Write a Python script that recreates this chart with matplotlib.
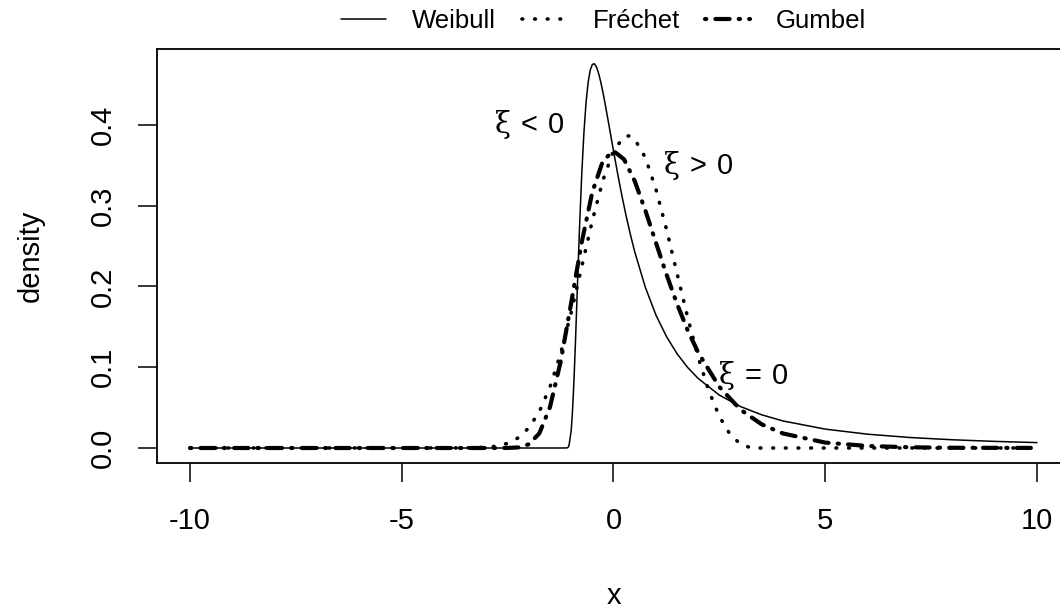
import matplotlib
matplotlib.use("Agg")
import matplotlib.pyplot as plt

plt.rcParams['font.family'] = ['Liberation Sans', 'DejaVu Sans']
plt.rcParams['mathtext.fontset'] = 'custom'
plt.rcParams['mathtext.rm'] = 'Liberation Sans'
plt.rcParams['mathtext.it'] = 'DejaVu Serif'

# ---- data ----
weibull_x = [-10.0, -1.25, -1.1, -1.075, -1.05, -1.0, -0.975, -0.95, -0.925, -0.9, -0.875,
             -0.85, -0.8, -0.75, -0.7, -0.65, -0.6, -0.55, -0.5, -0.45, -0.4, -0.35, -0.3,
             -0.25, -0.2, -0.1, 0.0, 0.1, 0.2, 0.3, 0.4, 0.5, 0.75, 1.0, 1.25, 1.5, 1.75,
             2.0, 2.5, 3.0, 3.5, 4.0, 5.0, 6.0, 7.0, 8.0, 9.0, 10.0]
weibull_y = [0.0, 0.0, 0.0001, 0.0007, 0.0032, 0.0211, 0.0396, 0.0646, 0.0948, 0.129, 0.1661,
             0.2037, 0.276, 0.339, 0.3893, 0.4268, 0.4524, 0.4678, 0.475, 0.4758, 0.4716,
             0.4636, 0.453, 0.4406, 0.4269, 0.3976, 0.3679, 0.3391, 0.312, 0.287, 0.2641,
             0.2432, 0.1993, 0.1649, 0.1381, 0.1168, 0.0998, 0.0861, 0.0655, 0.0513, 0.0411,
             0.0335, 0.0234, 0.0171, 0.013, 0.0102, 0.0082, 0.0067]

frechet_x = [-10.0, -3.5, -3.0, -2.75, -2.5, -2.25, -2.0, -1.75, -1.5, -1.25, -1.0, -0.75,
             -0.5, -0.25, 0.0, 0.25, 0.375, 0.5, 0.75, 1.0, 1.25, 1.5, 1.75, 2.0, 2.25,
             2.5, 2.75, 3.0, 3.25, 3.33, 10.0]
frechet_y = [0.0, 0.0001, 0.0009, 0.0024, 0.0058, 0.0126, 0.0249, 0.0452, 0.0755, 0.1167,
             0.1676, 0.2246, 0.2816, 0.3316, 0.3679, 0.3856, 0.3866, 0.3825, 0.3598, 0.3208,
             0.2711, 0.2163, 0.162, 0.1124, 0.0709, 0.039, 0.0171, 0.0047, 0.0002, 0.0, 0.0]

gumbel_x = [-10.0, -3.0, -2.5, -2.25, -2.0, -1.75, -1.5, -1.25, -1.0, -0.75, -0.5, -0.25,
            0.0, 0.25, 0.5, 0.75, 1.0, 1.25, 1.5, 1.75, 2.0, 2.5, 3.0, 3.5, 4.0, 5.0, 6.0,
            7.0, 8.0, 10.0]
gumbel_y = [0.0, 0.0, 0.0001, 0.0007, 0.0046, 0.0182, 0.0507, 0.1065, 0.1794, 0.2549, 0.317,
            0.3556, 0.3679, 0.3574, 0.3307, 0.2945, 0.2546, 0.2151, 0.1785, 0.146, 0.1182,
            0.0756, 0.0474, 0.0293, 0.018, 0.0067, 0.0025, 0.0009, 0.0003, 0.0001]

legend_labels = ["Weibull", "Fréchet", "Gumbel"]
x_ticks = [-10, -5, 0, 5, 10]
y_ticks = [0.0, 0.1, 0.2, 0.3, 0.4]
annotations = [(-2.0, 0.40, r"$\xi\,<\,0$"), (2.0, 0.35, r"$\xi\,>\,0$"),
               (3.3, 0.09, r"$\xi\,=\,0$")]

# ---- figure ----
W, H = 1060, 611
FS = 21
fig = plt.figure(figsize=(W / 100, H / 100), dpi=100)
ax = fig.add_axes([157 / W, 1 - 462.7 / H, 913 / W, (462.7 - 49) / H])
ax.set_xlim(-10.78, 10.78)
ax.set_ylim(-0.0182, 0.4941)

sty_w = dict(color='black', lw=1.1, solid_capstyle='round')
sty_f = dict(color='black', lw=2.6, linestyle=(0, (0.2, 3.3)), dash_capstyle='round')
sty_g = dict(color='black', lw=3.0, linestyle=(0, (0.3, 2.2, 3.4, 2.2)), dash_capstyle='round')

l1, = ax.plot(weibull_x, weibull_y, **sty_w)
l2, = ax.plot(frechet_x, frechet_y, **sty_f)
l3, = ax.plot(gumbel_x, gumbel_y, **sty_g)

for xx, yy, s in annotations:
    ax.text(xx, yy, s, fontsize=FS, ha='center', va='center')

for sp in ax.spines.values():
    sp.set_linewidth(1.3)

ax.set_xticks(x_ticks)
ax.set_xticklabels([f"{t:d}" for t in x_ticks])
ax.set_yticks(y_ticks)
ax.set_yticklabels([f"{t:.1f}" for t in y_ticks], rotation=90, va='center')
ax.tick_params(axis='both', direction='out', length=14, width=1.1, labelsize=FS)
ax.tick_params(axis='x', pad=18)
ax.tick_params(axis='y', pad=15)

ax.set_xlabel("x", fontsize=FS, labelpad=34)
ax.set_ylabel("density", fontsize=FS, labelpad=32)

leg = ax.legend([l1, l2, l3], legend_labels, loc='center', ncol=3,
                bbox_to_anchor=(0.4895, 1.0677), fontsize=18.5, frameon=False,
                handlelength=1.75, handletextpad=1.0, columnspacing=1.0,
                borderaxespad=0, borderpad=0)

fig.savefig("out.png", dpi=100)
